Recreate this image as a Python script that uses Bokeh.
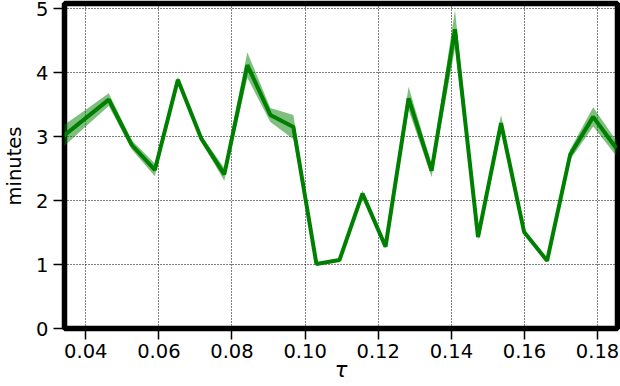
from bokeh.plotting import figure
from bokeh.models import FixedTicker, NumeralTickFormatter, Range1d
from bokeh.embed import file_html
from bokeh.resources import INLINE

tau = [0.0337, 0.0400, 0.0463, 0.0526, 0.0589, 0.0652, 0.0716, 0.0779, 0.0842,
       0.0905, 0.0968, 0.1031, 0.1094, 0.1157, 0.1220, 0.1283, 0.1346, 0.1410,
       0.1473, 0.1536, 0.1599, 0.1662, 0.1725, 0.1788, 0.1851]
minutes = [3.00, 3.29, 3.58, 2.87, 2.48, 3.89, 2.97, 2.41, 4.12, 3.34, 3.15, 1.01,
           1.07, 2.11, 1.28, 3.60, 2.47, 4.68, 1.43, 3.21, 1.51, 1.06, 2.72, 3.31, 2.82]
spread = [0.17, 0.13, 0.10, 0.07, 0.10, 0.05, 0.05, 0.10, 0.20, 0.11, 0.19, 0.02,
          0.02, 0.05, 0.03, 0.18, 0.10, 0.30, 0.05, 0.13, 0.03, 0.02, 0.08, 0.15, 0.12]
x_ticks = [0.04, 0.06, 0.08, 0.10, 0.12, 0.14, 0.16, 0.18]
y_ticks = [0, 1, 2, 3, 4, 5]

lower = [m - s for m, s in zip(minutes, spread)]
upper = [m + s for m, s in zip(minutes, spread)]

p = figure(width=620, height=386, output_backend="svg", toolbar_location=None,
           x_range=Range1d(0.03419, 0.18545), y_range=Range1d(0, 5.083),
           min_border_left=62, min_border_right=3, min_border_top=3, min_border_bottom=58)

p.varea(x=tau, y1=lower, y2=upper, fill_color="#008000", fill_alpha=0.5)
p.line(x=tau, y=minutes, line_color="#008000", line_width=4)

p.outline_line_color = "black"
p.outline_line_width = 5.5
p.outline_line_alpha = 1.0
p.background_fill_color = "white"
p.border_fill_color = "white"

for ax in (p.xaxis[0], p.yaxis[0]):
    ax.axis_line_color = None
    ax.major_tick_out = 11
    ax.major_tick_in = 0
    ax.major_tick_line_width = 1.5
    ax.major_tick_line_color = "black"
    ax.minor_tick_line_color = None
    ax.major_label_text_font = "DejaVu Sans"
    ax.major_label_text_font_size = "19.5px"
    ax.major_label_text_color = "black"
    ax.axis_label_text_color = "black"

p.xaxis.ticker = FixedTicker(ticks=x_ticks)
p.yaxis.ticker = FixedTicker(ticks=y_ticks)
p.xaxis.formatter = NumeralTickFormatter(format="0.00")
p.yaxis.formatter = NumeralTickFormatter(format="0")
p.xaxis.major_label_standoff = 4
p.yaxis.major_label_standoff = 5

p.xaxis.axis_label = "τ"
p.xaxis.axis_label_text_font = "DejaVu Sans"
p.xaxis.axis_label_text_font_style = "italic"
p.xaxis.axis_label_text_font_size = "21px"
p.xaxis.axis_label_standoff = -3

p.yaxis.axis_label = "minutes"
p.yaxis.axis_label_text_font = "DejaVu Sans"
p.yaxis.axis_label_text_font_style = "normal"
p.yaxis.axis_label_text_font_size = "19.5px"
p.yaxis.axis_label_standoff = 7

for g in (p.xgrid[0], p.ygrid[0]):
    g.grid_line_color = "black"
    g.grid_line_width = 1
    g.grid_line_dash = "1 2"
    g.grid_line_alpha = 1.0
p.xgrid.ticker = FixedTicker(ticks=x_ticks)
p.ygrid.ticker = FixedTicker(ticks=y_ticks)

open("out.html", "w").write(file_html(p, INLINE))
